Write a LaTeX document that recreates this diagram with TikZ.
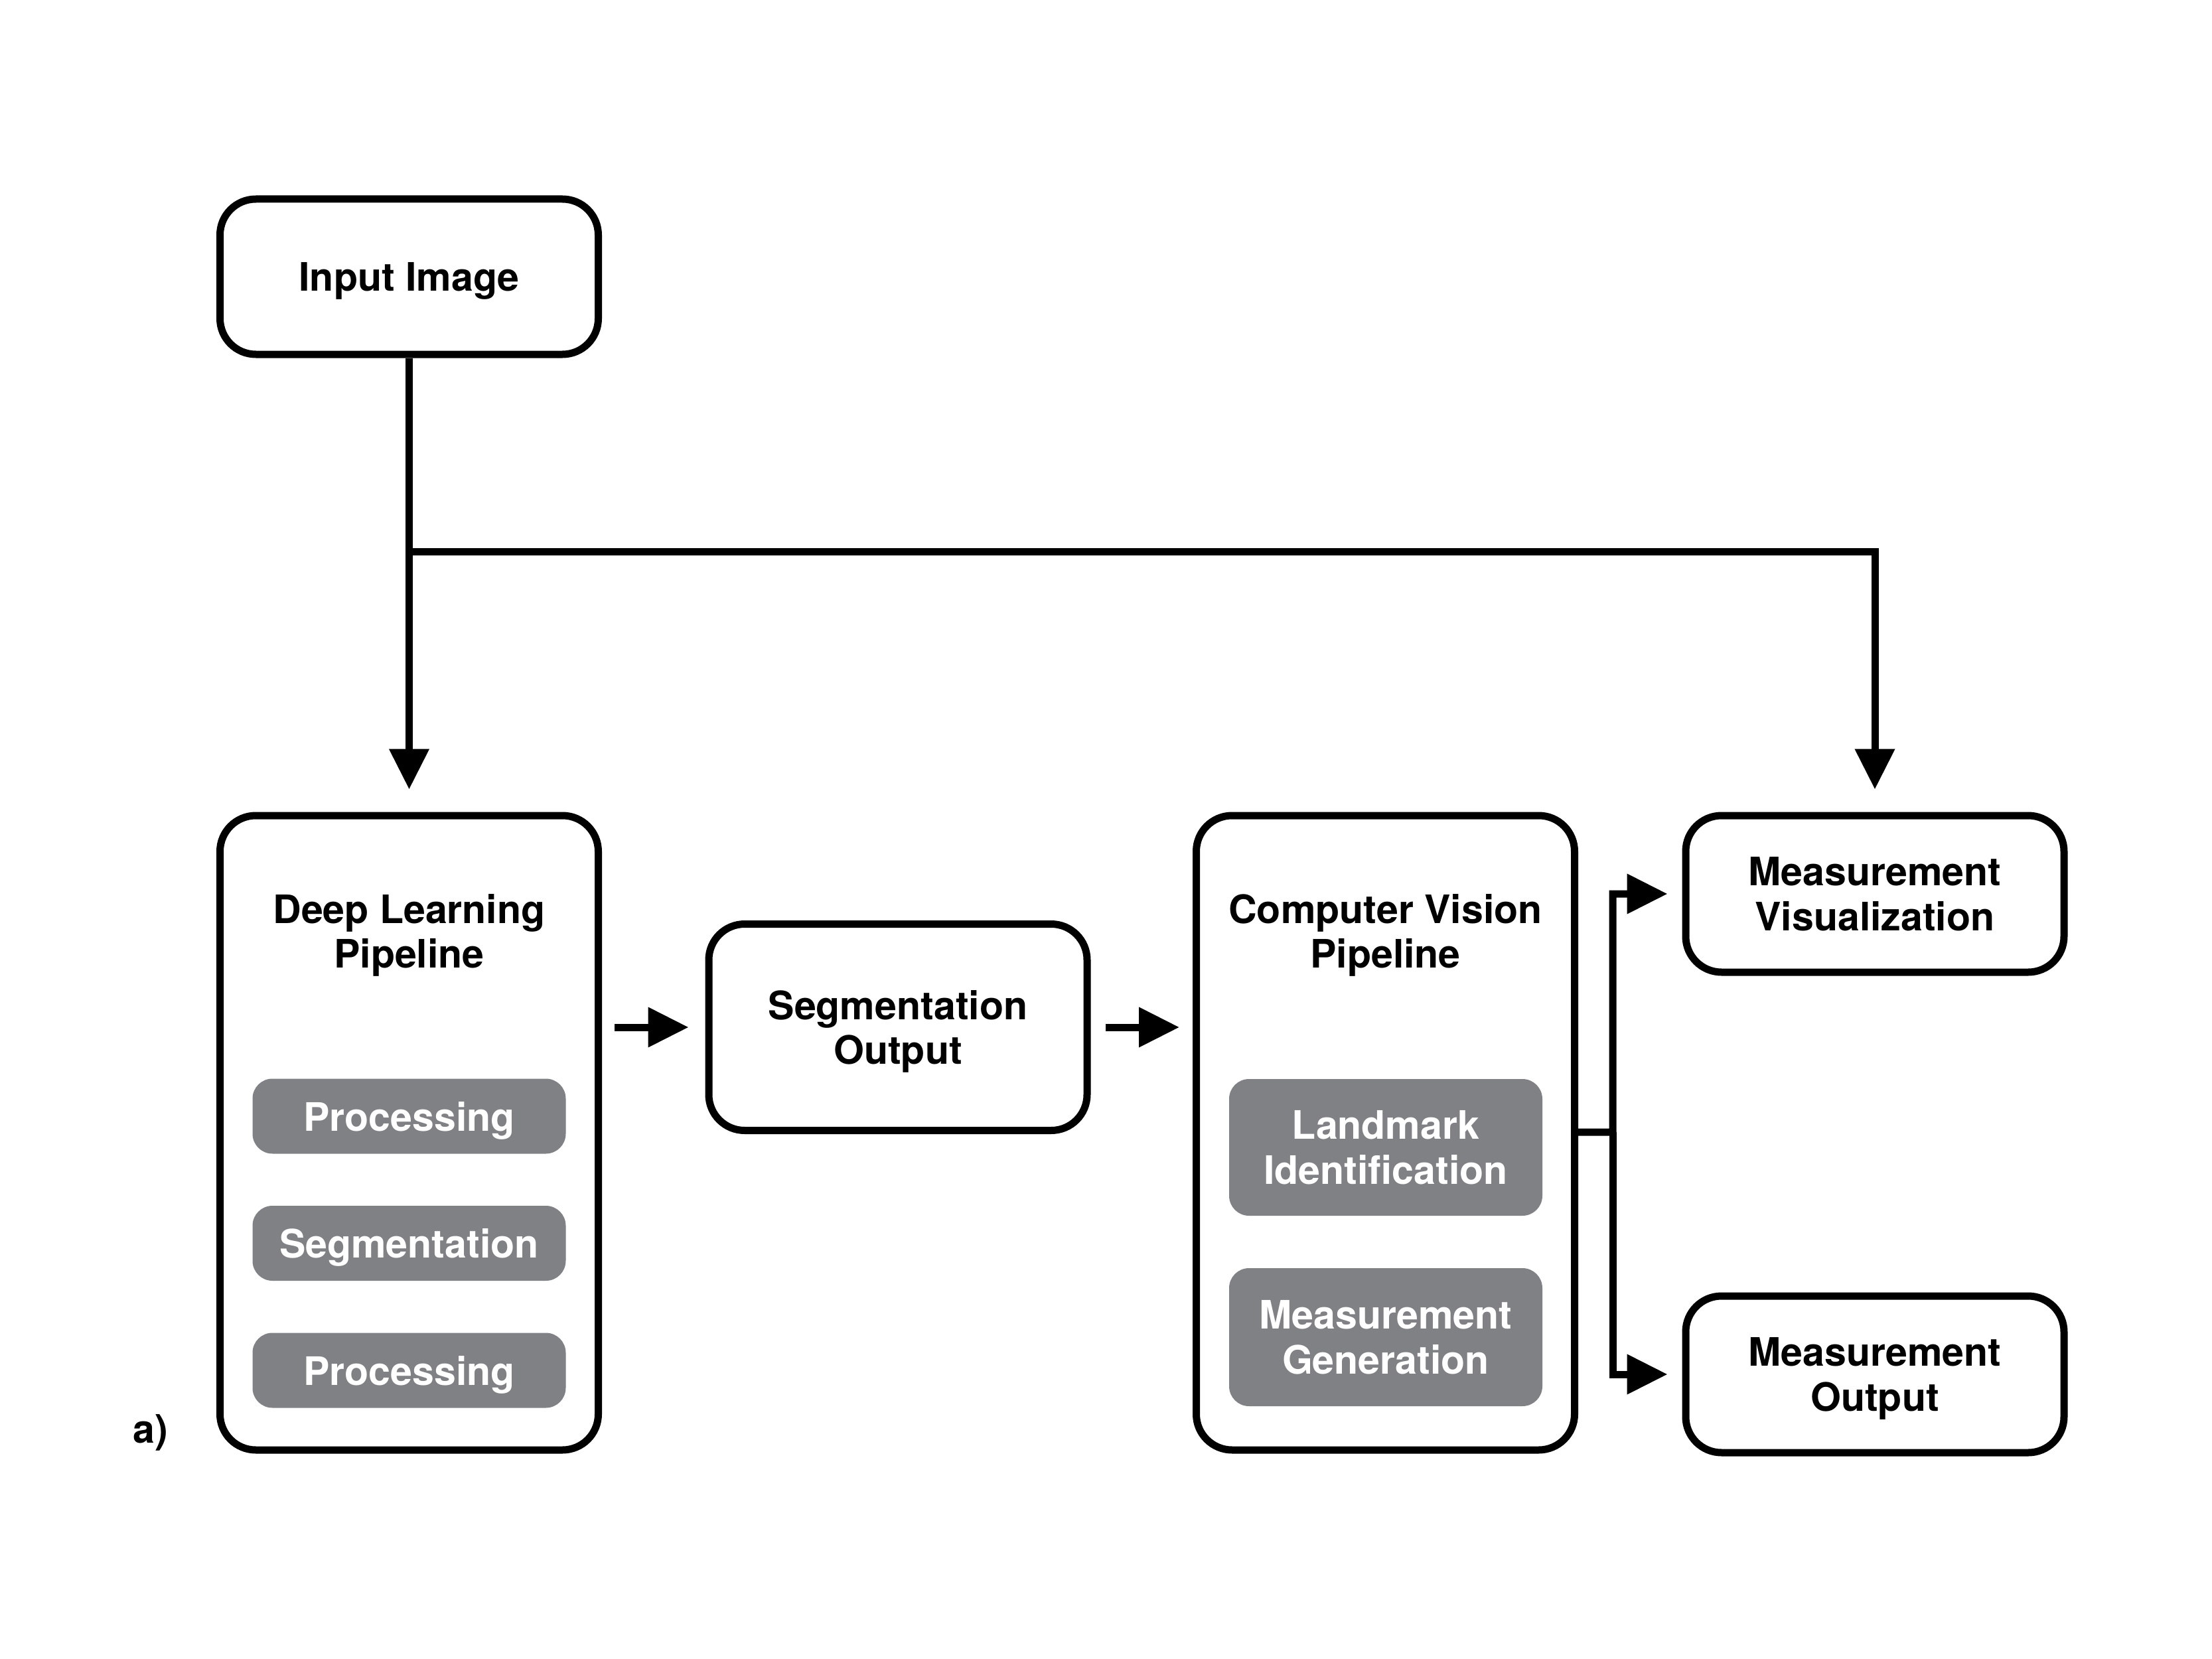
\documentclass[tikz,border=0pt]{standalone}
\usepackage{fontspec}
\setmainfont{TeX Gyre Heros}
\usetikzlibrary{arrows.meta}
\definecolor{stagegray}{RGB}{128,129,133}

\begin{document}
\begin{tikzpicture}[line width=1.1mm, >={Triangle[length=6.1mm,width=5.8mm]}]
\tikzstyle{block}=[draw=black, rounded corners=5.4mm, minimum width=5.7cm, inner sep=0pt, text depth=0pt, align=center, font=\fontsize{16.8}{19.3}\selectfont\bfseries]
\tikzstyle{subblock}=[fill=stagegray, text=white, rounded corners=3mm, minimum width=4.72cm, inner sep=0pt, text depth=0pt, align=center, font=\fontsize{16.8}{19.3}\selectfont\bfseries]
\tikzstyle{heading}=[align=center, inner sep=0pt, text depth=0pt, font=\fontsize{16.8}{19.3}\selectfont\bfseries]

\useasboundingbox (0,0) rectangle (33.33,-25);

% Input
\node at (6.165, -4.17) [block, minimum height=2.34cm] (input) {Input Image};

% Deep learning pipeline
\node at (6.165, -17.07) [block, minimum height=9.56cm] (dl_pipe) {};
\node at (6.165, -14.03) [heading] (dl_title) {Deep Learning\\Pipeline};
\foreach \t [count=\x] in {Processing,Segmentation,Processing}
\node at (6.165, -14.905-\x*1.915) [subblock, minimum height=1.13cm] (dl_\x) {\t};

% Segmentation output
\node at (13.53, -15.48) [block, minimum height=3.11cm] (seg_out) {Segmentation\\Output};

% Computer vision pipeline
\node at (20.875, -17.07) [block, minimum height=9.56cm] (cv_pipe) {};
\node at (20.875, -14.03) [heading] (cv_title) {Computer Vision\\Pipeline};
\node at (20.88, -17.29) [subblock, minimum height=2.06cm] (cv_1) {Landmark\\Identification};
\node at (20.88, -20.15) [subblock, minimum height=2.08cm] (cv_2) {Measurement\\Generation};

% Outputs
\node at (28.25, -13.47) [block, minimum height=2.36cm] (meas_vis) {Measurement\\Visualization};
\node at (28.25, -20.71) [block, minimum height=2.36cm] (meas_out) {Measurement\\Output};

\node at (2.27, -21.53) [heading] (tag) {a)};

% Input -> pipeline, visualization
\coordinate (split) at (6.165, -8.31);
\draw [->, shorten >=3.4mm] (input) -- (dl_pipe);
\draw [->, shorten >=3.4mm] (split) -| (meas_vis);

% Pipeline -> segmentation -> CV
\draw [->, shorten <=1.9mm, shorten >=2.5mm] (dl_pipe.east |- seg_out) -- (seg_out);
\draw [->, shorten <=2.2mm, shorten >=2mm] (seg_out) -- (seg_out -| cv_pipe.west);

% CV -> outputs
\coordinate (fork) at (24.30, -17.06);
\draw [->, shorten >=2.2mm] (cv_pipe) -- (fork) |- (meas_vis);
\draw [->, shorten >=2.2mm] (fork) |- (meas_out);
\end{tikzpicture}
\end{document}
